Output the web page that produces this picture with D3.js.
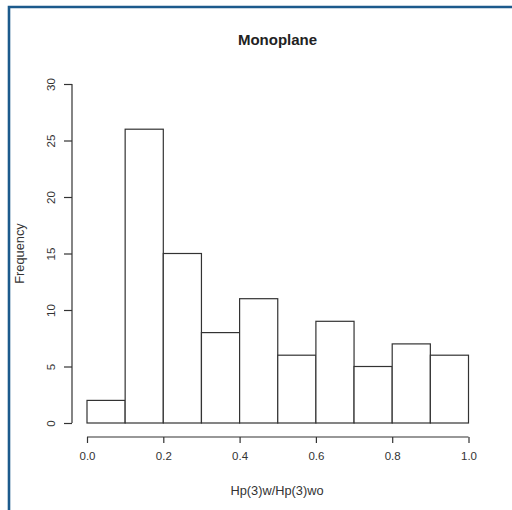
<!DOCTYPE html>
<html>
<head>
<meta charset="utf-8">
<script src="https://cdn.jsdelivr.net/npm/d3@7"></script>
<style>
html,body{margin:0;padding:0;background:#fff;}
svg{display:block;}
</style>
</head>
<body>
<svg id="chart" width="512" height="510"></svg>
<script>
const binStarts = [0.0,0.1,0.2,0.3,0.4,0.5,0.6,0.7,0.8,0.9];
const binEnds   = [0.1,0.2,0.3,0.4,0.5,0.6,0.7,0.8,0.9,1.0];
const counts    = [2,26,15,8,11,6,9,5,7,6];
const xTicks = [0,0.2,0.4,0.6,0.8,1.0];
const yTicks = [0,5,10,15,20,25,30];
const title = "Monoplane";
const xTitle = "Hp(3)w/Hp(3)wo";
const yTitle = "Frequency";

const svg = d3.select("#chart");
const font = "Liberation Sans, Arial, sans-serif";
const ink = "#333";

// frame
svg.append("path")
  .attr("d","M9,512 V7 H514")
  .attr("fill","none").attr("stroke","#1c5a8c").attr("stroke-width",2.6);

const x = d3.scaleLinear().domain([0,1]).range([87,468.5]);
const y = d3.scaleLinear().domain([0,30]).range([423,84]);

// bars
svg.append("g").selectAll("rect").data(counts).join("rect")
  .attr("x",(d,i)=>x(binStarts[i]))
  .attr("y",d=>y(d))
  .attr("width",(d,i)=>x(binEnds[i])-x(binStarts[i]))
  .attr("height",d=>y(0)-y(d))
  .attr("fill","#fff").attr("stroke","#333").attr("stroke-width",1.2);

// x axis
const xAxis = svg.append("g").attr("transform","translate(0,437)")
  .call(d3.axisBottom(x).tickValues(xTicks).tickFormat(d3.format(".1f")).tickSize(6).tickPadding(9));
// y axis
const yAxis = svg.append("g").attr("transform","translate(72,0)")
  .call(d3.axisLeft(y).tickValues(yTicks).tickSize(8).tickPadding(9));
[xAxis,yAxis].forEach(a=>{
  a.select(".domain").attr("stroke","#333").attr("stroke-width",1.2);
  a.selectAll(".tick line").attr("stroke","#333").attr("stroke-width",1.2);
  a.selectAll("text").attr("font-family",font).attr("font-size",11.5).attr("fill",ink);
});
yAxis.select(".domain").attr("d",`M0,${y(0)}V${y(30)}`);
xAxis.select(".domain").attr("d",`M${x(0)},0H${x(1)}`);
yAxis.selectAll(".tick text")
  .attr("text-anchor","middle")
  .attr("x",0).attr("dy",0)
  .attr("transform","translate(-21,0) rotate(-90)")
  .attr("y",0).attr("dominant-baseline","central");

// titles
svg.append("text").attr("x",277.5).attr("y",45)
  .attr("text-anchor","middle").attr("font-family",font).attr("font-weight","bold")
  .attr("font-size",15).attr("fill","#222").text(title);
svg.append("text").attr("x",277).attr("y",495)
  .attr("text-anchor","middle").attr("font-family",font)
  .attr("font-size",12.8).attr("fill",ink).text(xTitle);
svg.append("text").attr("transform","translate(24,253.5) rotate(-90)")
  .attr("text-anchor","middle").attr("font-family",font)
  .attr("font-size",12.8).attr("fill",ink).text(yTitle);
</script>
</body>
</html>
